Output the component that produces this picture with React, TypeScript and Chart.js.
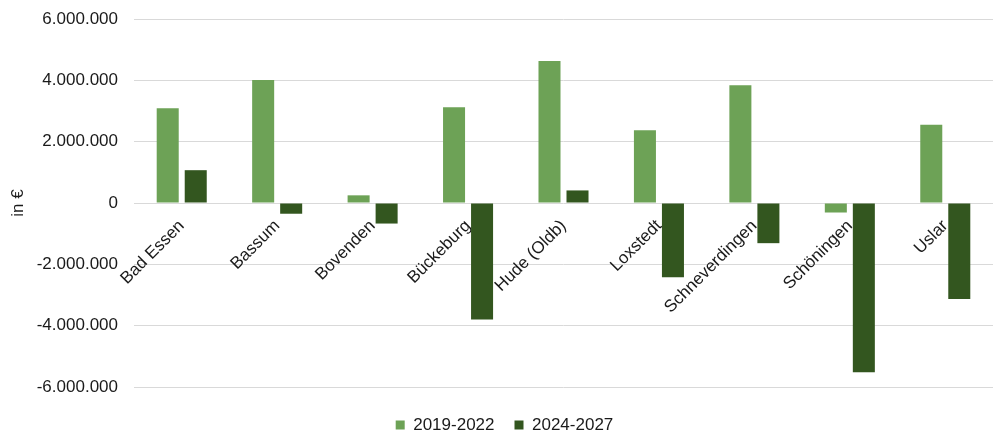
import React, { useEffect, useRef } from "react";
import { Chart, registerables } from "chart.js";

Chart.register(...registerables);

const categories = [
  "Bad Essen",
  "Bassum",
  "Bovenden",
  "Bückeburg",
  "Hude (Oldb)",
  "Loxstedt",
  "Schneverdingen",
  "Schöningen",
  "Uslar",
];

const seriesNames = ["2019-2022", "2024-2027"];

const values2019to2022 = [3090000, 4010000, 250000, 3120000, 4630000, 2370000, 3840000, -310000, 2550000];
const values2024to2027 = [1070000, -350000, -670000, -3800000, 410000, -2420000, -1310000, -5520000, -3130000];

const yMin = -6000000;
const yMax = 6000000;
const yStep = 2000000;

const axisTitle = "in €";

const FONT = "'Liberation Sans', Arial, sans-serif";

// German thousands separator: 6000000 -> "6.000.000"
function formatDe(v: number): string {
  const sign = v < 0 ? "-" : "";
  const s = Math.round(Math.abs(v)).toString();
  return sign + s.replace(/\B(?=(\d{3})+(?!\d))/g, ".");
}

export default function App() {
  const canvasRef = useRef<HTMLCanvasElement | null>(null);

  useEffect(() => {
    const canvas = canvasRef.current;
    if (!canvas) return;
    const chart = new Chart(canvas, {
      type: "bar",
      data: {
        labels: categories,
        datasets: [
          {
            label: seriesNames[0],
            data: values2019to2022,
            backgroundColor: "#6DA256",
            borderWidth: 0,
          },
          {
            label: seriesNames[1],
            data: values2024to2027,
            backgroundColor: "#33561F",
            borderWidth: 0,
          },
        ],
      },
      options: {
        responsive: false,
        animation: false,
        devicePixelRatio: 1,
        datasets: {
          bar: {
            categoryPercentage: 0.587,
            barPercentage: 0.786,
          },
        },
        layout: {
          padding: { left: 16, right: 0, top: 19, bottom: -6.5 },
        },
        plugins: {
          tooltip: { enabled: false },
          legend: {
            position: "bottom",
            title: {
              display: true,
              text: "",
              padding: 0,
              font: { size: 9.5, lineHeight: 1 },
            },
            labels: {
              boxWidth: 9,
              boxHeight: 9,
              padding: 20,
              color: "#1a1a1a",
              font: { family: FONT, size: 17 },
            },
          },
        },
        scales: {
          x: {
            position: { y: 0 },
            grid: { display: false },
            border: { display: false },
            ticks: {
              minRotation: 45,
              maxRotation: 45,
              autoSkip: false,
              padding: 5,
              color: "#1a1a1a",
              font: { family: FONT, size: 17 },
            },
          },
          y: {
            min: yMin,
            max: yMax,
            afterFit: (scale: any) => {
              scale.width = 118;
            },
            grid: {
              color: "#D9D9D9",
              lineWidth: 1,
              drawTicks: true,
              tickLength: 16,
              tickColor: "rgba(0,0,0,0)",
            },
            border: { display: false },
            ticks: {
              stepSize: yStep,
              padding: 0,
              color: "#1a1a1a",
              font: { family: FONT, size: 17 },
              callback: (v: any) => formatDe(Number(v)),
            },
            title: {
              display: true,
              text: axisTitle,
              color: "#1a1a1a",
              padding: { top: -8, bottom: 0 },
              font: { family: FONT, size: 17 },
            },
          },
        },
      },
    });
    return () => chart.destroy();
  }, []);

  return (
    <div style={{ position: "absolute", left: 0, top: 0, width: 993, height: 437, background: "#fff" }}>
      <canvas ref={canvasRef} width={993} height={437} style={{ display: "block" }} />
    </div>
  );
}
